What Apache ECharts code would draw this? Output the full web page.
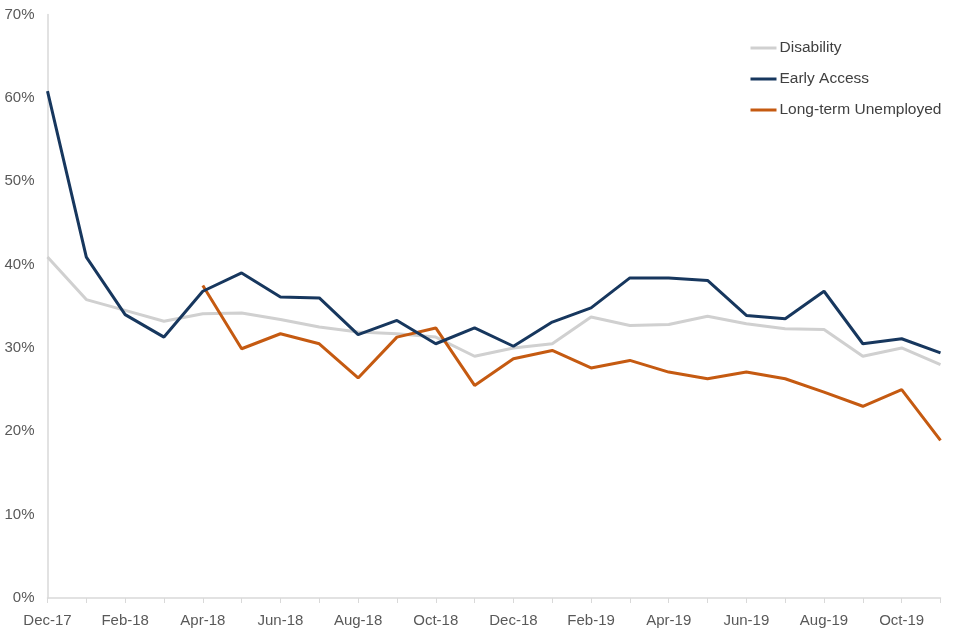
<!DOCTYPE html>
<html>
<head>
<meta charset="utf-8">
<script src="https://cdn.jsdelivr.net/npm/echarts@6/dist/echarts.min.js"></script>
<style>html,body{margin:0;padding:0;background:#fff}#c{width:960px;height:640px}</style>
</head>
<body>
<div id="c"></div>
<script>
var categories = ['Dec-17','Jan-18','Feb-18','Mar-18','Apr-18','May-18','Jun-18','Jul-18','Aug-18','Sep-18','Oct-18','Nov-18','Dec-18','Jan-19','Feb-19','Mar-19','Apr-19','May-19','Jun-19','Jul-19','Aug-19','Sep-19','Oct-19','Nov-19'];
var disability = [40.9,35.8,34.5,33.2,34.1,34.2,33.4,32.5,31.9,31.7,31.3,29.0,30.0,30.5,33.7,32.7,32.8,33.8,32.9,32.3,32.2,29.0,30.0,28.0];
var earlyAccess = [60.8,40.9,34.0,31.3,36.8,39.0,36.1,36.0,31.6,33.3,30.5,32.4,30.2,33.1,34.8,38.4,38.4,38.1,33.9,33.5,36.8,30.5,31.1,29.4];
var longTermUnemployed = [null,null,null,null,37.5,29.9,31.7,30.5,26.4,31.3,32.4,25.5,28.7,29.7,27.6,28.5,27.1,26.3,27.1,26.3,24.7,23.0,25.0,18.9];
var yTicks = [0,10,20,30,40,50,60,70];

var font = "'Liberation Sans', Arial, sans-serif";
var chart = echarts.init(document.getElementById('c'));
chart.setOption({
  animation: false,
  textStyle: {fontFamily: font},
  grid: {left: 47.5, right: 19.5, top: 14.5, bottom: 42, containLabel: false},
  legend: {
    orient: 'vertical', left: 749, top: 40, padding: 0, itemWidth: 26, itemHeight: 15, itemGap: 15,
    textStyle: {fontSize: 15.5, color: '#404040', fontFamily: font, padding: [0,0,0,-2]},
    itemStyle: {opacity: 0},
    lineStyle: {width: 3},
    data: ['Disability','Early Access','Long-term Unemployed']
  },
  xAxis: {
    type: 'category', data: categories, boundaryGap: false,
    axisLine: {lineStyle: {color: '#d9d9d9', width: 1.5}},
    axisTick: {show: true, interval: 0, length: 5, lineStyle: {color: '#d9d9d9'}},
    axisLabel: {interval: 1, fontSize: 15, color: '#595959', margin: 15, fontFamily: font}
  },
  yAxis: {
    type: 'value', min: yTicks[0], max: yTicks[yTicks.length-1], interval: 10,
    axisLine: {show: true, lineStyle: {color: '#d9d9d9', width: 1.5}},
    axisTick: {show: false},
    splitLine: {show: false},
    axisLabel: {fontSize: 15, color: '#595959', margin: 13, fontFamily: font, formatter: '{value}%'}
  },
  series: [
    {name: 'Disability', type: 'line', data: disability, symbol: 'none', lineStyle: {color: '#d0d0d0', width: 3}, itemStyle: {color: '#d0d0d0'}, z: 1},
    {name: 'Early Access', type: 'line', data: earlyAccess, symbol: 'none', lineStyle: {color: '#17375e', width: 3}, itemStyle: {color: '#17375e'}, z: 3},
    {name: 'Long-term Unemployed', type: 'line', data: longTermUnemployed, symbol: 'none', lineStyle: {color: '#c55a11', width: 3}, itemStyle: {color: '#c55a11'}, z: 2}
  ]
});
</script>
</body>
</html>
